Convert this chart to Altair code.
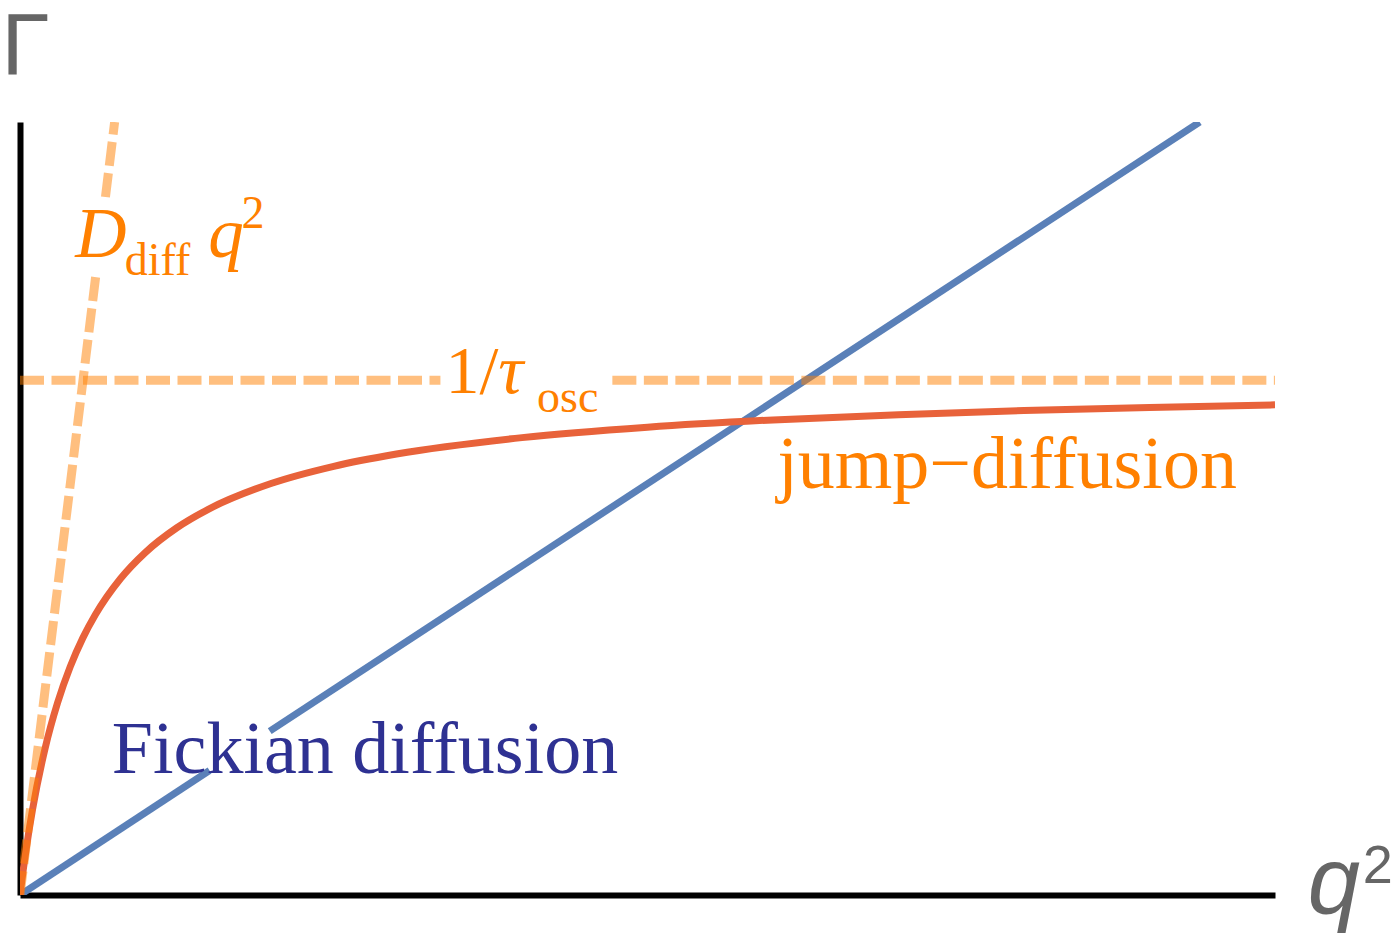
import altair as alt
import pandas as pd

# ---- data (q^2 on x, Gamma on y, arbitrary units 0..10) ----
# Fickian diffusion: straight line, interrupted behind its label
fick_q2 = [0.0, 1.51, 1.99, 9.40]
fick_gamma = [0.0, 1.61, 2.12, 10.0]
fick_seg = ["a", "a", "b", "b"]

# jump-diffusion curve
jump_q2 = [0.0, 0.025, 0.05, 0.1, 0.2, 0.3, 0.4, 0.5, 0.6, 0.8, 1.0, 1.25, 1.5,
           2.0, 2.5, 3.0, 4.0, 5.0, 6.0, 7.0, 8.0, 9.0, 10.0]
jump_gamma = [0.0, 0.316, 0.603, 1.106, 1.897, 2.490, 2.953, 3.323, 3.625, 4.091,
              4.433, 4.751, 4.989, 5.323, 5.546, 5.705, 5.917, 6.052, 6.146, 6.214,
              6.267, 6.308, 6.341]

# 1/tau_osc plateau (dashed), interrupted behind its label
osc_q2 = [0.0, 3.35, 4.72, 10.0]
osc_gamma = [6.66, 6.66, 6.66, 6.66]
osc_seg = ["a", "a", "b", "b"]

# D_diff q^2 small-q asymptote (dashed), interrupted behind its label
diff_q2 = [0.0, 0.603, 0.681, 0.754]
diff_gamma = [0.0, 8.0, 9.03, 10.0]
diff_seg = ["a", "a", "b", "b"]

# labels
ddiff_text = ["D", "diff", "q", "2"]
ddiff_q2 = [0.44, 0.835, 1.50, 1.765]
ddiff_gamma = [8.25, 8.02, 8.25, 8.63]

osc_text = ["1/", "τ", "osc"]
osc_lab_q2 = [3.39, 3.81, 4.12]
osc_lab_gamma = [6.49, 6.49, 6.25]

jump_text = ["jump−diffusion"]
jump_lab_q2 = [7.865]
jump_lab_gamma = [5.265]

fick_text = ["Fickian diffusion"]
fick_lab_q2 = [2.749]
fick_lab_gamma = [1.578]

gamma_text = ["Γ"]
gamma_lab_q2 = [-0.150]
gamma_lab_gamma = [10.62]

qaxis_text = ["q", "2"]
qaxis_q2 = [10.26, 10.70]
qaxis_gamma = [-0.233, 0.155]

# ---- chart ----
xs = alt.Scale(domain=[0, 10], nice=False, zero=False)
ys = alt.Scale(domain=[0, 10], nice=False, zero=False)
ax = alt.Axis(domain=True, domainColor="black", domainWidth=6, ticks=False,
              labels=False, grid=False, title=None)

ORANGE = "#FF8000"


def enc():
    return dict(
        x=alt.X("q2:Q", scale=xs, axis=ax),
        y=alt.Y("gamma:Q", scale=ys, axis=ax),
    )


def line_layer(q2, gamma, seg, **mark):
    df = pd.DataFrame({"q2": q2, "gamma": gamma, "seg": seg})
    return alt.Chart(df).mark_line(clip=True, **mark).encode(detail="seg:N", **enc())


def text_layer(texts, q2, gamma, idx, **mark):
    df = pd.DataFrame({"label": [texts[i] for i in idx],
                       "q2": [q2[i] for i in idx],
                       "gamma": [gamma[i] for i in idx]})
    return alt.Chart(df).mark_text(baseline="alphabetic", **mark).encode(
        text="label:N", **enc())


fick = line_layer(fick_q2, fick_gamma, fick_seg, color="#5A80B8", strokeWidth=7)
jump = line_layer(jump_q2, jump_gamma, ["a"] * len(jump_q2),
                  color="#E8623A", strokeWidth=7, interpolate="monotone")
osc = line_layer(osc_q2, osc_gamma, osc_seg, color=ORANGE, strokeOpacity=0.5,
                 strokeWidth=9, strokeDash=[24, 7.5])
diff = line_layer(diff_q2, diff_gamma, diff_seg, color=ORANGE, strokeOpacity=0.5,
                  strokeWidth=9, strokeDash=[24, 7.5])

SERIF = "Liberation Serif"
SANS = "Liberation Sans"

t_D = text_layer(ddiff_text, ddiff_q2, ddiff_gamma, [0, 2], font=SERIF,
                 fontStyle="italic", fontSize=71, color=ORANGE, align="left")
t_diff = text_layer(ddiff_text, ddiff_q2, ddiff_gamma, [1, 3], font=SERIF,
                    fontSize=46, color=ORANGE, align="left")
t_one = text_layer(osc_text, osc_lab_q2, osc_lab_gamma, [0], font=SERIF,
                   fontSize=68, color=ORANGE, align="left")
t_tau = text_layer(osc_text, osc_lab_q2, osc_lab_gamma, [1], font=SERIF,
                   fontStyle="italic", fontSize=70, color=ORANGE, align="left")
t_osc = text_layer(osc_text, osc_lab_q2, osc_lab_gamma, [2], font=SERIF,
                   fontSize=46, color=ORANGE, align="left")
t_jump = text_layer(jump_text, jump_lab_q2, jump_lab_gamma, [0], font=SERIF,
                    fontSize=74, color=ORANGE, align="center")
t_fick = text_layer(fick_text, fick_lab_q2, fick_lab_gamma, [0], font=SERIF,
                    fontSize=74, color="#2E3192", align="center")
t_gamma = text_layer(gamma_text, gamma_lab_q2, gamma_lab_gamma, [0], font=SANS,
                     fontSize=88, color="#666666", align="left")
t_q = text_layer(qaxis_text, qaxis_q2, qaxis_gamma, [0], font=SANS,
                 fontStyle="italic", fontSize=94, color="#666666", align="left")
t_q2 = text_layer(qaxis_text, qaxis_q2, qaxis_gamma, [1], font=SANS,
                  fontSize=54, color="#666666", align="left")

chart = alt.layer(
    fick, jump, osc, diff,
    t_D, t_diff, t_one, t_tau, t_osc, t_jump, t_fick, t_gamma, t_q, t_q2,
).properties(
    width=1255,
    height=773,
    padding={"left": 12, "top": 114, "right": 117, "bottom": 49},
    autosize=alt.AutoSizeParams(type="none"),
).configure_view(stroke=None)

chart.save("out.html", embed_options={"renderer": "svg", "actions": False})
